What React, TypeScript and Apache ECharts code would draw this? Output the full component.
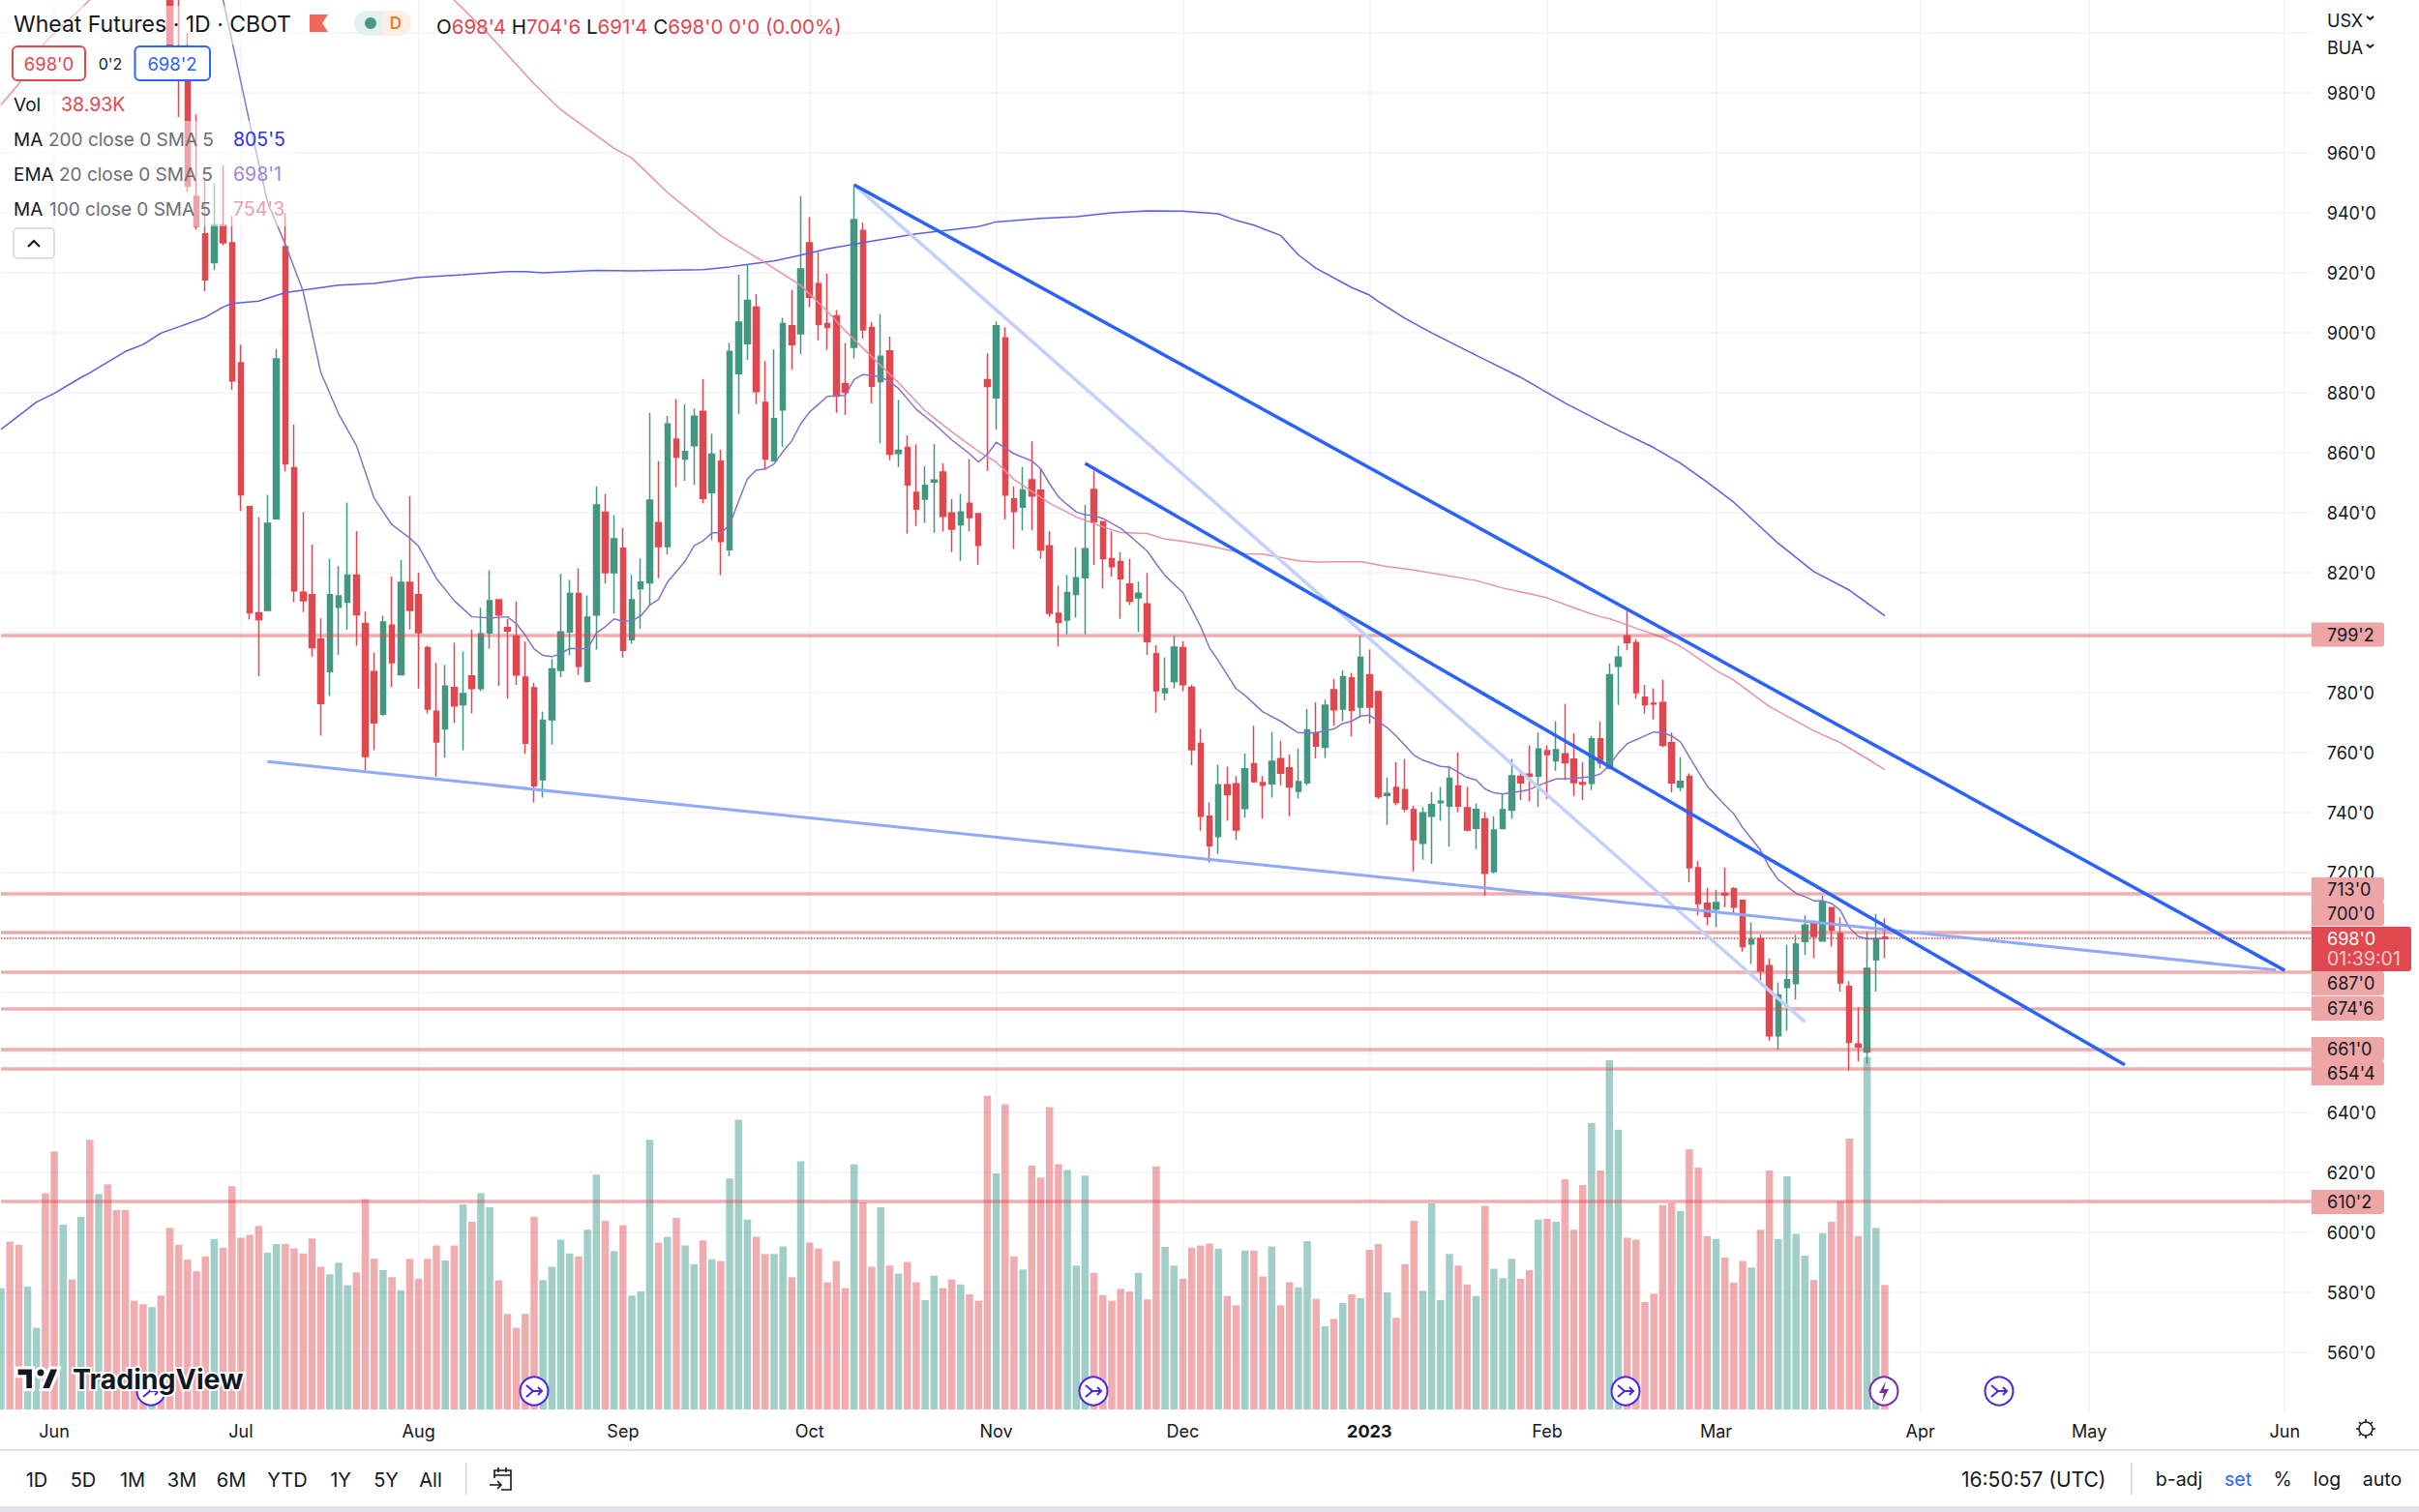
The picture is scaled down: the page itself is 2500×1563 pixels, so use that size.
import React, { useEffect, useRef } from "react";
import * as echarts from "echarts";

const FONT = "Inter, Roboto, sans-serif";
const SLOT_COUNT = 261;

// month label per bar slot
const monthStarts: [number, string][] = [
  [6, "Jun"], [27, "Jul"], [47, "Aug"], [70, "Sep"], [91, "Oct"], [112, "Nov"], [133, "Dec"],
  [154, "2023"], [174, "Feb"], [193, "Mar"], [216, "Apr"], [235, "May"], [257, "Jun"],
];

// bars 0..18 sit above the visible price range; only their volume side can be read
const hiddenBarSides = "GRRGGRRGRGRGRRRRRGR";

// [open, close, low, high] of bars 19..212
const candles: number[][] = [
  [1018,996,995,1025],[1020,1015,972,1030],[994,949,947,1000],[945.5,935.6,934.5,972.8],[933,917.7,913.9,951.4],
  [923.4,936,921,949.8],[936,930,929.2,955.9],[930,884,881,939],[890,846,840.6,896],[842,806.6,804.4,842.3],
  [806.6,804.4,785.5,838.5],[807.4,836.5,807.4,846],[838,891.3,838,894.6],[928.7,856.3,853.8,940],[855,814,810.2,869.4],
  [813.5,810.7,806.9,840.3],[812.7,795,792,829.4],[797.8,776.4,765.7,804.8],[787,812.7,778.9,824.7],[808.5,812.3,792.6,822.2],
  [810.2,819.2,801,843.4],[819.2,806,795.7,833.9],[803.1,758.7,754.2,807],[787,769.9,760.8,793.4],[772.8,803.6,772.3,805.7],
  [802.5,790,781.9,818.7],[786,816.8,786,824.2],[816.8,807.4,801.1,845.6],[812.7,800,781.4,820],[795,774.5,773.1,795.7],
  [773.8,763.6,752,789.9],[767.9,782.2,758.3,789.3],[781.7,775.6,769.9,796.7],[776,779.7,760.8,793.7],[785.6,781.4,773.1,801.1],
  [781.4,799.6,780.5,808.3],[799.9,810.7,794.6,820.8],[811,805.9,782.3,811],[801.7,800.6,778,804.5],[798.9,785.9,782.6,810.4],
  [785.2,763.2,759.6,797],[781.6,749,743.4,783.3],[751,770.8,745,773.7],[771,787.9,762.7,791.2],[787.4,800.3,785.2,819.6],
  [800.3,813.1,792.4,817.6],[813.1,788.8,785.9,821.5],[783.8,805.2,783.3,812.4],[805.9,842.6,794.4,848.8],[840.2,820,816.4,846.2],
  [820,831.3,806.4,839.2],[828.2,794.1,791.7,834.9],[797.7,811,796.3,819.3],[814.7,816.9,801.3,824.8],[816.6,844.2,809.2,873.3],
  [836.7,828.7,818.2,857.2],[828.7,869.6,826.1,872.3],[864.5,858.6,848.6,877.9],[857.9,860.4,850.7,876.2],[862.4,872.2,849.3,874.8],
  [873.8,844.8,843.1,884.6],[846.7,859.5,830.8,866.4],[857.2,830.4,819.2,861],[827.7,893.8,825.5,896.6],[886.4,903.6,873,919.4],
  [896.4,910.8,891,922.6],[908.6,880.4,876.2,912.9],[876.8,857.9,854.3,890.6],[857.3,871.4,857,894.5],[874.3,903.1,862,905],
  [902.4,896.1,887.7,914.4],[899.7,921.3,892.9,945.6],[930,911.9,908.6,938.6],[916.4,902.8,897.5,926.9],[903.1,901.8,894.3,919.7],
  [905.7,878.9,873.3,907.6],[883.1,880.2,872.6,896.6],[895.2,937.8,891.5,949.4],[934.1,901,898.1,936.7],[901.8,882.2,876.5,903.6],
  [883.7,892.2,863.2,906.2],[894,859.5,857.5,898.7],[859.8,860.8,855.3,877.6],[861.8,849.3,833,865.8],[846.8,841.2,835.6,862.8],
  [844.5,849.1,836.6,855.5],[850.3,850.9,833.3,862.9],[853.6,838.8,833.7,856.5],[839.9,834.5,826.9,844.6],[836,840.3,824,846.3],
  [843.2,838.4,833.8,857.9],[839.7,829.1,822.7,839.9],[884.4,882.1,854,893.2],[878.3,902.4,867.7,903.7],[898.3,845.9,837.8,901.9],
  [844.6,840.4,827.9,848.8],[841.9,847.6,834.1,855.3],[851,845.6,834.1,863.8],[847.5,827.6,824.7,854.7],[829,806.5,805.3,833.8],
  [806.5,803.4,795.4,815.7],[804.2,813.4,799.5,819.3],[812.8,818.3,805,828.5],[818.3,828,799.5,842.7],[847.8,837,822.6,854],
  [837,824.7,814.7,837],[824.7,822,818.7,833.8],[823.7,818,804.6,826.9],[816.2,810.5,809.2,824.7],[811.6,813.2,800.3,817],
  [809.6,797,792.6,819.9],[793,780.7,773.3,795.8],[780,781.3,777.4,791.8],[783.7,795.2,781.5,799],[795,782.7,780.5,797.1],
  [781.8,761,755.8,782.7],[763.1,738.8,734,767.9],[738.8,729,723.4,743.4],[732,749.3,726.2,756],[749.3,746,737.3,755.3],
  [749.6,734.2,730.9,752.2],[741.4,754.6,738.3,759.7],[756.3,750.3,750,769],[750,749.1,738,752.2],[749.6,757.1,745,766.9],
  [758,753.2,749.1,764],[754.9,748.6,738.8,759.4],[747.1,750.3,744.8,761.4],[749.9,767.6,749.1,774.5],[766.6,762.2,758.1,776.8],
  [761.8,775.8,758.2,777.7],[781,774.3,769,784.6],[774.5,785.3,770.5,787.4],[784.9,774.1,765.4,786.6],[775.2,791.8,771.9,799],
  [786,775.2,769.7,794.4],[780.3,745.3,744.5,780.5],[745.7,746.4,735.9,751.7],[748.4,743.4,742.4,756.8],[747.7,741.2,740.2,757.9],
  [741,731,720.4,742.3],[729.8,739.9,724.3,741.9],[738.8,742.7,722.9,746.9],[743.3,743.8,737.3,748.6],[742.2,751.5,728.7,755.7],
  [748.9,742.2,740.2,760],[741.6,734.2,733.7,748.6],[734.8,741.1,727.8,743],[737.9,719.8,712.3,740.2],[720.3,734.2,719.8,738.8],
  [734.7,741,734.7,746.3],[740.8,752.3,737.9,757.8],[752.1,749.9,744.2,753.1],[752.8,752.1,743.7,762.4],[752.2,761.2,741.9,766.7],
  [760.7,759.4,744.6,762.4],[757.3,761,754,770.5],[759.6,756.6,750.8,776.3],[757.8,750,745.6,766.5],[750,749.5,744.2,756.9],
  [749.8,764.6,747.5,765.6],[764.6,756.6,754.8,770.4],[754.8,786,754.8,789.8],[788.8,791.9,775.9,795.7],[799,796.7,794.1,807.3],
  [796.7,780,778,797.8],[778.5,776,773,782.6],[776.5,776.2,771.1,781.5],[776.7,762.4,761.8,784.3],[763.3,749.9,746.8,766.7],
  [748.5,750.4,747.1,758.5],[752.1,721.6,716.8,753.1],[721.6,709.7,705.7,723.9],[709.8,705.3,702.4,714.9],[707.8,710,701.9,714.3],
  [713.1,712.6,708.5,721.6],[714.6,708.5,706.2,715.2],[710.7,695.3,693.6,710.8],[696.2,697.7,689.5,703.4],[698,687.2,684.1,699.3],
  [689,665.6,664,691.3],[665.6,679.2,661,683.4],[681.7,684.3,667.3,695.9],[683,696.1,677.7,699.3],[697,702.5,692.6,705.7],
  [703.7,698.7,691.5,703.7],[697.2,710.3,697,712.3],[708.3,700.8,695.3,708.5],[699.7,683.2,680.3,705.1],[682,663.4,654,683.8],
  [662.8,661.9,657,675.1],[660.2,688.1,656.3,700.2],[690.9,698,680.3,706.2],[698.5,698,691.5,704.75],
];

// volume in thousands, bars 0..212
const volumes: number[] = [
  37.9,52.5,51.5,38.4,25.6,67.6,80.7,57.8,40.7,60.3,84.3,67.4,70.4,62.3,62.3,34,32.9,32,35.6,56.8,
  51.5,46.9,43.2,47.9,53.3,50.6,69.8,53.7,54.6,57.4,49,51.7,51.7,50.4,48.8,53.5,44.6,42.3,45.9,38.9,
  42.9,65.8,47.2,43.6,41.4,37.3,47.1,40.9,47.1,51.3,46.6,51.3,64.1,58.7,67.7,63.2,40.4,29.9,25.6,29.9,
  60.3,40.5,44.6,53.1,48.8,47.9,56.2,73.4,59,49.5,57.6,35.6,36.9,84.3,52.2,54,59.9,51.3,45.4,52.9,
  47,46.4,72.2,90.6,59.4,54,48.6,48.6,51,41.4,77.6,52.2,50.4,39.8,46.4,38,76.7,64.7,44.6,63.2,
  45,42.5,46.1,39.8,34.2,41.8,38,40.7,39.1,36,34,98.1,73.8,95.4,47.9,43.8,76.2,72.5,94.5,76.7,
  74.9,45,73.1,42.7,35.7,34,37.7,36.8,42.7,34.4,76,50.8,45,40.9,50.6,51.3,51.9,50.2,35.5,32.6,
  49.7,49.7,41.6,51,32.6,39.8,38.2,52.6,34.6,26,28.3,33.3,36,34.8,49.9,51.7,36.6,28.7,45.4,59,
  37.1,64.4,34.2,48.6,45,39.1,35.5,63.7,44,41.1,47.1,40.9,43.6,59.4,59.6,58.7,72,56.2,70.2,89.5,
  74.7,109.2,87.5,53.7,53.1,33.6,36.2,63.9,64.6,62.1,81.4,75.6,54.2,53.3,47.5,39.6,46.4,44.4,56.2,74.7,
  53.3,72.9,54.9,48.1,40.5,55.1,58.7,65.1,84.7,54.2,110.2,56.8,38.93,
];

// [bar, price] points read along each average
const ma200: number[][] = [
  [0,867.8],[4,876.9],[6,879.8],[9,885.1],[10,886.7],[14,893.8],[16,896.1],[18,899.9],[20,902],[23,905.2],[25,908.6],[26,909.8],
  [29,910.6],[32,913.4],[38,915.9],[42,916.5],[47,918.5],[52,919.4],[57,920.4],[59,920.4],[61,920],[67,920.8],[71,920.7],[79,921.1],
  [82,922],[87,924],[90,925.9],[93,928],[98,930.6],[103,933],[110,935.4],[112,937],[117,938.2],[121,938.7],[125,940],[129,940.7],
  [133,940.6],[137,939.7],[139,937.5],[141,935.9],[144,932.5],[146,926],[148,921.5],[152,915.1],[154,912.6],[155,910.5],[158,904.8],
  [161,900],[165,894],[171,885.2],[176,876.6],[182,867.5],[186,861.7],[189,856.5],[192,850.2],[195,843.5],[200,829.8],[204,820.4],
  [208,814.2],[212,805.6],
];
const ema20: number[][] = [
  [25,1011],[28,969.9],[30,943.5],[32,929.5],[34,913.9],[36,886.7],[38,873],[40,862.4],[42,844.8],[44,836],[46,831.6],[47,828.8],
  [49,818.1],[51,810.7],[53,805.3],[55,804.9],[57,805.3],[58,803],[59,799.2],[60,794.6],[61,792.4],[62,792],[63,793],[64,794.8],
  [66,794.6],[67,799.9],[68,802],[69,804.6],[70,803.8],[71,803.9],[72,805.6],[73,809.2],[74,811.1],[75,816.9],[77,823.9],[78,829],
  [79,830.6],[80,833.3],[81,833.3],[82,835.9],[83,843.8],[84,851.3],[85,854.2],[86,854.6],[87,856.3],[88,860.4],[89,864],[90,869.7],
  [91,873.6],[92,876.2],[93,878.8],[95,879.1],[96,884.4],[97,886.1],[98,885.8],[99,885.3],[100,883.7],[101,881.5],[103,874.5],[105,869.7],
  [107,864.3],[109,859.7],[110,856.9],[111,859.5],[112,863.5],[114,859.7],[116,857.3],[117,854.7],[118,849.7],[119,845.3],[120,842.7],
  [121,840.3],[122,839.3],[123,839.1],[124,838.1],[126,834.8],[127,832.4],[129,827.2],[130,823],[131,819],[133,813.4],[134,807.9],
  [135,802.1],[136,795],[137,790.6],[139,781.3],[140,779.1],[142,773.6],[144,770.5],[146,766.6],[148,766.6],[150,767.9],[151,769.7],
  [152,770.5],[153,772.2],[154,772.5],[155,770.5],[156,768.3],[157,765.6],[159,759.2],[160,757.5],[162,755.4],[163,755.2],[165,751.7],
  [166,750.9],[167,747.9],[168,746.6],[169,746.2],[171,747.1],[172,747.7],[174,750.2],[175,751.2],[177,751.4],[179,752],[180,752.9],
  [181,755.8],[182,759.8],[183,763],[185,765.6],[186,766.9],[187,766.7],[188,765.6],[189,763.6],[190,758.6],[191,753.7],[192,748.9],
  [194,742.5],[195,739.6],[196,735],[198,727.5],[199,721.8],[200,717.7],[201,715.4],[202,713.1],[203,712],[204,710.6],[205,710.6],
  [206,709.7],[207,707.4],[208,701.6],[209,698.7],[210,697.9],[211,697.9],[212,698],
];
const ma100: number[][] = [
  [0,976],[2,983],[5,997],[10,1011],[13,1022],[48,1022],[51,1011],[55,999.2],[60,983],[63,974.4],[69,961.5],[71,958.3],[75,946.8],
  [81,932.4],[83,928.8],[86,923.4],[90,915.8],[93,907.2],[95,900.7],[98,892],[101,883.4],[104,874],[107,867],[110,860.5],[112,856.9],
  [114,851.1],[118,843.2],[121,838.6],[124,835.3],[126,833.4],[129,833.1],[131,831.2],[133,830.5],[136,829],[140,826.3],[142,826.2],
  [146,824],[148,823.6],[153,823.7],[156,822],[159,820.9],[166,817.4],[169,814.9],[172,813],[174,811.6],[178,807.3],[180,805.3],
  [181,804.7],[184,801.5],[187,798.4],[189,795.5],[193,787.4],[195,784.2],[199,775.4],[204,767.3],[207,763.3],[210,758],[212,754.3],
];

// drawn trend lines: [bar, price] ends
const trendUpper: number[][] = [[96,949.4],[257,687.4]];
const trendMiddle: number[][] = [[122,856.5],[239,655.9]];
const trendPale: number[][] = [[96,949.4],[203,670.2]];
const trendFloor: number[][] = [[30,757],[256,687.5]];

const levels = [799.25, 713, 700, 687, 674.75, 661, 654.5, 610.25];
const levelLabels = ["799'2", "713'0", "700'0", "687'0", "674'6", "661'0", "654'4", "610'2"];
const levelLabelCentres = [656, 919.5, 944.5, 1016.5, 1042.5, 1084.5, 1109.5, 1242.5];
const lastPrice = 698;
const hiddenTicks = [540, 660, 680, 700, 800, 1000];

const eventCentres = [156, 552, 1130, 1680, 2066];
const rangeButtons: [string, number][] = [["1D",38],["5D",86],["1M",137],["3M",188],["6M",239],["YTD",297],["1Y",352],["5Y",399],["All",445]];
const scaleButtons: [string, number, string][] = [["b-adj",2252,"#131722"],["set",2313,"#2962ff"],["%",2359,"#131722"],["log",2405,"#131722"],["auto",2462,"#131722"]];

const RED = "#e0474f";
const GREEN = "#43967f";
const RED_VOL = "rgba(224,71,79,0.45)";
const GREEN_VOL = "rgba(67,160,145,0.5)";
const AXIS_LEFT = 2388.8;

echarts.graphic.registerShape("tvLogo", echarts.graphic.extendPath("M14 22H7V11H0V4h14v18ZM28 22h-8l7.5-18h8L28 22ZM24 8a4 4 0 1 1-8 0a4 4 0 0 1 8 0Z", {}) as any);
echarts.graphic.registerShape("eventArrow", echarts.graphic.extendPath("M-8 -6L-1 0L-8 6M-3 0H8M4 -4L8 0L4 4", {}) as any);
echarts.graphic.registerShape("gearIcon", echarts.graphic.extendPath("M7 0a7 7 0 1 1-14 0a7 7 0 1 1 14 0ZM0 -7V-10M0 7V10M-7 0H-10M7 0H10M-5 -5L-7 -7M5 -5L7 -7M-5 5L-7 7M5 5L7 7", {}) as any);
echarts.graphic.registerShape("calendarIcon", echarts.graphic.extendPath("M-7 -1V-9H10V11H0M-7 -4H10M-3 -12V-7M5 -12V-7M-12 6H-1M-4 2L0 6L-4 10", {}) as any);

const categories: string[] = Array.from({ length: SLOT_COUNT }, (_, i) => {
  const hit = monthStarts.find((m) => m[0] === i);
  return hit ? hit[1] : "";
});
const isLabelled = (i: number) => categories[i] !== "";

const isUp = (i: number) =>
  i < hiddenBarSides.length ? hiddenBarSides[i] === "G" : candles[i - hiddenBarSides.length][1] >= candles[i - hiddenBarSides.length][0];

const text = (x: number, y: number, t: string, fill: string, size = 18, align = "left", weight = 400, extra: any = {}) => ({
  type: "text", z: 120, silent: true,
  style: { x, y, text: t, fill, align, verticalAlign: "middle", textAlign: align, textVerticalAlign: "middle", font: `${weight} ${size}px ${FONT}`, ...extra },
});
const rect = (x: number, y: number, width: number, height: number, fill: string, r: any = 0, stroke?: string, lineWidth = 0, z = 110) => ({
  type: "rect", z, silent: true, shape: { x, y, width, height, r }, style: { fill, stroke, lineWidth },
});

function buildGraphics(): any[] {
  const g: any[] = [];
  // translucent legend backdrops
  g.push(rect(10, 6, 335, 40, "rgba(255,255,255,0.5)"));
  g.push(rect(10, 125, 295, 109, "rgba(255,255,255,0.5)"));
  // title row
  g.push(text(14, 25, "Wheat Futures · 1D · CBOT", "#131722", 23));
  g.push({ type: "polygon", z: 120, silent: true, shape: { points: [[320,15],[339,15],[333,24],[339,33],[320,33]] }, style: { fill: "#f2665c" } });
  g.push(rect(366, 11, 59, 26, "#e3f2ef", 13));
  g.push(rect(395, 11, 30, 26, "#fdf0e2", [0, 13, 13, 0]));
  g.push({ type: "circle", z: 120, silent: true, shape: { cx: 383, cy: 24, r: 6 }, style: { fill: "#4a9a85" } });
  g.push(text(409, 24, "D", "#ea7e27", 17, "center", 600));
  g.push(text(451, 27, "{k|O}{v|698'4} {k|H}{v|704'6} {k|L}{v|691'4} {k|C}{v|698'0} {v|0'0 (0.00%)}", RED, 20.5, "left", 400, {
    rich: {
      k: { fill: "#131722", font: `400 20.5px ${FONT}` },
      v: { fill: RED, font: `400 20.5px ${FONT}` },
    },
  }));
  // bid / ask
  g.push(rect(13, 48, 75, 35, "#ffffff", 5, RED, 2));
  g.push(text(50.5, 66, "698'0", RED, 18.5, "center"));
  g.push(text(114, 66, "0'2", "#131722", 16, "center"));
  g.push(rect(139.5, 48, 77.5, 35, "#ffffff", 5, "#2962ff", 2));
  g.push(text(178, 66, "698'2", "#2962ff", 18.5, "center"));
  // legend rows
  g.push(text(14, 108, "Vol", "#131722", 19));
  g.push(text(63, 108, "38.93K", RED, 19.5));
  const rows: [number, string, number, string, string, string][] = [
    [144, "MA", 50, "200 close 0 SMA 5", "805'5", "#2a2ef0"],
    [180, "EMA", 61, "20 close 0 SMA 5", "698'1", "#9a87d6"],
    [216, "MA", 51, "100 close 0 SMA 5", "754'3", "#e89fb4"],
  ];
  rows.forEach(([y, a, x, b, v, c]) => {
    g.push(text(14, y, a, "#131722", 19));
    g.push(text(x, y, b, "#6a6d78", 19));
    g.push(text(241, y, v, c, 19.5));
  });
  g.push(rect(14, 236, 42, 31, "#ffffff", 4, "#d1d4dc", 1.5));
  g.push({ type: "polyline", z: 120, silent: true, shape: { points: [[29,255],[35,249],[41,255]] }, style: { stroke: "#131722", lineWidth: 2, fill: "none" } });
  // currency selectors
  g.push(text(2405, 21, "USX", "#131722", 18));
  g.push(text(2405, 49, "BUA", "#131722", 18));
  [17, 46].forEach((y) => g.push({ type: "polyline", z: 120, silent: true, shape: { points: [[2446,y],[2449.5,y+3],[2453,y]] }, style: { stroke: "#131722", lineWidth: 2, fill: "none" } }));
  // level labels
  levelLabels.forEach((t, i) => {
    const c = levelLabelCentres[i];
    g.push(rect(AXIS_LEFT, c - 12.5, 2464 - AXIS_LEFT, 25, "#eea5a6", [0, 3, 3, 0]));
    g.push(text(2405, c, t, "#131722", 18));
  });
  g.push(rect(AXIS_LEFT, 958, 2492 - AXIS_LEFT, 46, RED, [0, 3, 3, 0], undefined, 0, 112));
  g.push(text(2405, 970, "698'0", "#ffffff", 18));
  g.push(text(2405, 991, "01:39:01", "rgba(255,255,255,0.72)", 19.5));
  // session-break markers
  eventCentres.forEach((x) => {
    g.push({ type: "circle", z: 115, silent: true, shape: { cx: x, cy: 1438, r: 14.5 }, style: { fill: "#ffffff", stroke: "#4a25ee", lineWidth: 2 } });
    g.push({ type: "eventArrow", z: 116, silent: true, x, y: 1438, style: { fill: "none", stroke: "#4a25ee", lineWidth: 2 } });
  });
  g.push({ type: "circle", z: 115, silent: true, shape: { cx: 1947, cy: 1438, r: 14.5 }, style: { fill: "#ffffff", stroke: "#7b2ba8", lineWidth: 2 } });
  g.push({ type: "polygon", z: 116, silent: true, shape: { points: [[1949,1428],[1942,1440],[1947,1440],[1945,1449],[1952,1436],[1947,1436]] }, style: { fill: "#7b2ba8" } });
  // watermark
  g.push({ type: "tvLogo", z: 125, silent: true, x: 17, y: 1409, scaleX: 1.25, scaleY: 1.25, style: { fill: "#131722", stroke: "#ffffff", lineWidth: 2.5 } });
  g.push(text(75, 1425, "TradingView", "#131722", 28.5, "left", 700, { stroke: "#ffffff", lineWidth: 4 }));
  // bottom bars
  g.push(rect(0, 1498, 2500, 2, "#e0e3eb"));
  g.push(rect(0, 1557, 2500, 6, "#e0e3eb"));
  rangeButtons.forEach(([t, x]) => g.push(text(x, 1530, t, "#131722", 20, "center")));
  g.push(rect(481, 1512, 1.5, 33, "#d1d4dc"));
  g.push({ type: "calendarIcon", z: 120, silent: true, x: 518, y: 1529, style: { fill: "none", stroke: "#131722", lineWidth: 1.6 } });
  g.push(text(2027, 1529, "16:50:57 (UTC)", "#131722", 21));
  g.push(rect(2202, 1512, 1.5, 33, "#d1d4dc"));
  scaleButtons.forEach(([t, x, c]) => g.push(text(x, 1529, t, c, 19.5, "center")));
  g.push({ type: "gearIcon", z: 120, silent: true, x: 2445, y: 1477, style: { fill: "none", stroke: "#131722", lineWidth: 1.6 } });
  return g;
}

const lineSeries = (data: number[][], color: string, width: number, z: number) => ({
  type: "line", data, xAxisIndex: 0, yAxisIndex: 0, symbol: "none", showSymbol: false, smooth: false, silent: true, clip: true, z,
  lineStyle: { color, width }, animation: false,
});

export default function App() {
  const ref = useRef<HTMLDivElement>(null);
  useEffect(() => {
    const chart = echarts.init(ref.current!, undefined, { renderer: "svg" });
    const hidden = hiddenBarSides.split("").map(() => ["-", "-", "-", "-"]);
    chart.setOption({
      animation: false,
      backgroundColor: "#ffffff",
      textStyle: { fontFamily: FONT },
      grid: { left: 1, top: 0, width: AXIS_LEFT - 1, height: 1460, containLabel: false },
      xAxis: {
        type: "category", data: categories, boundaryGap: false,
        axisLine: { show: false }, axisTick: { show: false },
        axisLabel: {
          interval: (i: number) => isLabelled(i), margin: 10, fontSize: 18, color: "#131722", fontFamily: FONT,
          formatter: (v: string) => (v === "2023" ? "{b|2023}" : v),
          rich: { b: { fontWeight: 700, fontSize: 18, color: "#131722", fontFamily: FONT } },
        },
        splitLine: { show: true, interval: (i: number) => isLabelled(i), lineStyle: { color: "#f0f3fa", width: 1.5 } },
      },
      yAxis: [
        {
          type: "value", position: "right", min: 540, max: 1011, interval: 20,
          axisLine: { show: false }, axisTick: { show: false },
          axisLabel: {
            margin: 16, fontSize: 18, color: "#131722", fontFamily: FONT, showMinLabel: false, showMaxLabel: false,
            formatter: (v: number) => (v % 20 !== 0 || hiddenTicks.includes(v) ? "" : `${v}'0`),
          },
          splitLine: { show: true, showMinLine: false, showMaxLine: false, lineStyle: { color: "#f0f3fa", width: 1.5 } },
        },
        { type: "value", min: -0.9, max: 440.7, show: false, splitLine: { show: false } },
      ],
      graphic: { elements: buildGraphics() },
      series: [
        {
          type: "bar", xAxisIndex: 0, yAxisIndex: 1, barWidth: 7.5, silent: true, z: 1,
          data: volumes.map((value, i) => ({ value, itemStyle: { color: isUp(i) ? GREEN_VOL : RED_VOL } })),
        },
        {
          type: "candlestick", xAxisIndex: 0, yAxisIndex: 0, barWidth: 6, silent: true, clip: true, z: 2,
          data: [...hidden, ...candles],
          itemStyle: { color: GREEN, color0: RED, borderColor: GREEN, borderColor0: RED, borderWidth: 1.5 },
          markLine: {
            silent: true, symbol: "none", animation: false, label: { show: false },
            data: [
              ...levels.map((yAxis) => ({ yAxis, lineStyle: { color: "rgba(224,71,79,0.45)", width: 3.5, type: "solid" } })),
              { yAxis: lastPrice, lineStyle: { color: RED, width: 1.5, type: "dotted" } },
            ],
          },
        },
        lineSeries(ma200, "#5b5fe8", 1.5, 3),
        lineSeries(ma100, "#e88fa9", 1.5, 3),
        lineSeries(ema20, "#8672c9", 1.5, 3),
        lineSeries(trendPale, "#c2d1fb", 3.5, 6),
        lineSeries(trendFloor, "#8fa9fc", 3, 6),
        lineSeries(trendMiddle, "#2962ff", 3.5, 6),
        lineSeries(trendUpper, "#2962ff", 3.5, 6),
      ],
    });
    return () => chart.dispose();
  }, []);
  return <div ref={ref} style={{ position: "fixed", left: 0, top: 0, width: 2500, height: 1563, background: "#fff" }} />;
}
